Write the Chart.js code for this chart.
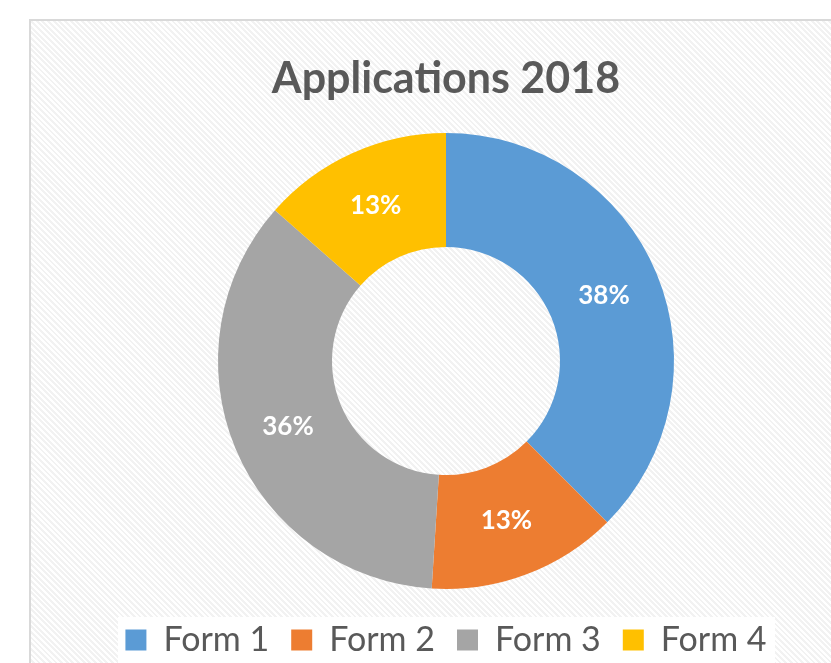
<!DOCTYPE html>
<html>
<head>
<meta charset="utf-8">
<script src="https://cdn.jsdelivr.net/npm/chart.js@4"></script>
<style>
    html, body { margin: 0; padding: 0; background: #ffffff; overflow: hidden; }
    #wrap { position: relative; width: 831px; height: 663px; overflow: hidden; }
    #frame {
        position: absolute; left: 29px; top: 19px; width: 900px; height: 700px;
        border: 2px solid #d9d9d9;
        background: repeating-linear-gradient(45deg, #ffffff 0px, #ffffff 2px, #f2f2f2 2px, #f2f2f2 4px);
    }
    #legendBg { position: absolute; left: 118px; top: 617px; width: 657px; height: 60px; background: #ffffff; }
    canvas { position: absolute; left: 0; top: 0; }
</style>
</head>
<body>
<div id="wrap">
    <div id="frame"></div>
    <div id="legendBg"></div>
    <canvas id="chart" width="831" height="667"></canvas>
</div>
<script>
    const categories = ['Form 1', 'Form 2', 'Form 3', 'Form 4'];
    const shares = [37.5, 13.5, 35.5, 13.5];
    const shareLabels = ['38%', '13%', '36%', '13%'];
    const colors = ['#5b9bd5', '#ed7d31', '#a5a5a5', '#ffc000'];

    // writes the percentages in the middle of each ring piece
    const sliceLabels = {
        id: 'sliceLabels',
        afterDatasetsDraw(chart) {
            const ctx = chart.ctx;
            const meta = chart.getDatasetMeta(0);
            ctx.save();
            ctx.font = 'bold 26px Lato';
            ctx.fillStyle = '#ffffff';
            ctx.textAlign = 'center';
            ctx.textBaseline = 'middle';
            meta.data.forEach((arc, i) => {
                const p = arc.tooltipPosition();
                ctx.fillText(shareLabels[i], p.x, p.y);
            });
            ctx.restore();
        }
    };

    new Chart(document.getElementById('chart'), {
        type: 'doughnut',
        data: {
            labels: categories,
            datasets: [{
                data: shares,
                backgroundColor: colors,
                borderWidth: 0
            }]
        },
        options: {
            responsive: false,
            animation: false,
            radius: 228,
            cutout: '50%',
            layout: { padding: { left: 61, right: 0, top: 0, bottom: 0 } },
            plugins: {
                title: {
                    display: true,
                    text: 'Applications 2018',
                    color: '#595959',
                    font: { family: 'Lato', size: 43, weight: 'bold' },
                    padding: { top: 53, bottom: 16.4 }
                },
                legend: {
                    position: 'bottom',
                    labels: {
                        color: '#595959',
                        font: { family: 'Lato', size: 34 },
                        boxWidth: 21,
                        boxHeight: 21,
                        padding: 22
                    }
                },
                tooltip: { enabled: false }
            }
        },
        plugins: [sliceLabels]
    });
</script>
</body>
</html>
